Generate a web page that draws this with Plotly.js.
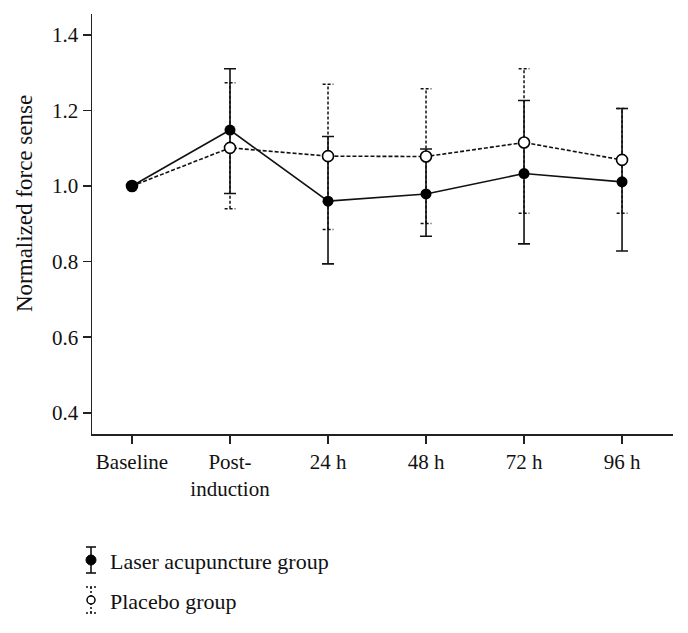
<!DOCTYPE html>
<html>
<head>
<meta charset="utf-8">
<script src="https://cdn.plot.ly/plotly-3.0.1.min.js"></script>
<style>html,body{margin:0;padding:0;background:#fff;}#chart{width:688px;height:633px;}</style>
</head>
<body>
<div id="chart"></div>
<script>
// Data
const categories = ["Baseline", "Post-<br>induction", "24 h", "48 h", "72 h", "96 h"];
const laserMean  = [1.000, 1.148, 0.960, 0.979, 1.033, 1.011];
const laserUp    = [0.000, 0.162, 0.171, 0.119, 0.193, 0.194];
const laserDown  = [0.000, 0.168, 0.166, 0.112, 0.186, 0.183];
const placeboMean = [1.000, 1.101, 1.079, 1.078, 1.115, 1.069];
const placeboUp   = [0.000, 0.172, 0.190, 0.179, 0.195, 0.136];
const placeboDown = [0.000, 0.161, 0.194, 0.177, 0.187, 0.141];
const legendNames = ["Laser acupuncture group", "Placebo group"];
const yTitle = "Normalized force sense";

const xIdx = categories.map((_, i) => i);
const FONT = "Liberation Serif, Times New Roman, serif";

// dashed error bars for placebo (built from data)
const ebX = [], ebY = [], capX = [], capY = [];
const capHalf = 0.055;
placeboMean.forEach((m, i) => {
  if (placeboUp[i] === 0 && placeboDown[i] === 0) return;
  const hi = m + placeboUp[i], lo = m - placeboDown[i];
  ebX.push(i, i, null); ebY.push(lo, hi, null);
  capX.push(i - capHalf, i + capHalf, null); capY.push(hi, hi, null);
  capX.push(i - capHalf, i + capHalf, null); capY.push(lo, lo, null);
});

const traces = [
  {
    x: ebX, y: ebY, mode: "lines", type: "scatter", showlegend: false, hoverinfo: "skip",
    line: {color: "#111", width: 1.5, dash: "3px,2px"}
  },
  {
    x: capX, y: capY, mode: "lines", type: "scatter", showlegend: false, hoverinfo: "skip",
    line: {color: "#111", width: 1.5, dash: "3px,2px"}
  },
  { // laser error bars only
    x: xIdx, y: laserMean, type: "scatter", mode: "markers",
    marker: {size: 1, opacity: 0},
    error_y: {type: "data", symmetric: false,
      array: laserUp, arrayminus: laserDown,
      color: "#111", thickness: 1.6, width: 6},
    showlegend: false, hoverinfo: "skip"
  },
  {
    x: xIdx, y: placeboMean, name: legendNames[1], type: "scatter", mode: "lines+markers",
    line: {color: "#111", width: 1.6, dash: "4px,2px"},
    marker: {symbol: "circle", size: 11, color: "#fff", line: {color: "#000", width: 1.6}},
    showlegend: false
  },
  {
    x: xIdx, y: laserMean, name: legendNames[0], type: "scatter", mode: "lines+markers",
    line: {color: "#111", width: 1.6},
    marker: {symbol: "circle", size: 11, color: "#000"},
    showlegend: false
  }
];

// custom legend (paper coords)
const L = 92, R = 673, T = 14, B = 434;
const px = v => (v - L) / (R - L);
const py = v => (B - v) / (B - T);
const legY = [560, 600];
const symX = px(91);
const shapes = [];
// laser symbol
shapes.push({type: "line", xref: "paper", yref: "paper", x0: symX, x1: symX, y0: py(legY[0] - 13), y1: py(legY[0] + 13), line: {color: "#111", width: 1.6}});
shapes.push({type: "line", xref: "paper", yref: "paper", x0: px(86), x1: px(96), y0: py(legY[0] - 13), y1: py(legY[0] - 13), line: {color: "#111", width: 1.6}});
shapes.push({type: "line", xref: "paper", yref: "paper", x0: px(86), x1: px(96), y0: py(legY[0] + 13), y1: py(legY[0] + 13), line: {color: "#111", width: 1.6}});
shapes.push({type: "circle", xref: "paper", yref: "paper", x0: px(86), x1: px(96), y0: py(legY[0] + 5), y1: py(legY[0] - 5), fillcolor: "#000", line: {color: "#000", width: 1}});
// placebo symbol
shapes.push({type: "line", xref: "paper", yref: "paper", x0: symX, x1: symX, y0: py(legY[1] - 13), y1: py(legY[1] + 13), line: {color: "#111", width: 1.6, dash: "2px,2px"}});
shapes.push({type: "line", xref: "paper", yref: "paper", x0: px(86), x1: px(96), y0: py(legY[1] - 13), y1: py(legY[1] - 13), line: {color: "#111", width: 1.6, dash: "2px,2px"}});
shapes.push({type: "line", xref: "paper", yref: "paper", x0: px(86), x1: px(96), y0: py(legY[1] + 13), y1: py(legY[1] + 13), line: {color: "#111", width: 1.6, dash: "2px,2px"}});
shapes.push({type: "circle", xref: "paper", yref: "paper", x0: px(87), x1: px(95), y0: py(legY[1] + 4), y1: py(legY[1] - 4), fillcolor: "#fff", line: {color: "#000", width: 1.5}});

const annotations = legendNames.map((n, i) => ({
  xref: "paper", yref: "paper", x: px(108), y: py(legY[i] + 1), xanchor: "left", yanchor: "middle",
  text: n, showarrow: false, font: {family: FONT, size: 22, color: "#111"}
}));
annotations.push({
  xref: "paper", yref: "paper", x: px(25), y: py(204), xanchor: "center", yanchor: "middle",
  textangle: -90, text: yTitle, showarrow: false, font: {family: FONT, size: 23, color: "#111"}
});

const layout = {
  width: 688, height: 633,
  margin: {l: L, r: 688 - R, t: T, b: 633 - B},
  paper_bgcolor: "#fff", plot_bgcolor: "#fff",
  font: {family: FONT, size: 21, color: "#111"},
  showlegend: false,
  xaxis: {
    range: [-0.408, 5.52], tickmode: "array", tickvals: xIdx, ticktext: categories,
    showgrid: false, zeroline: false, showline: true, linecolor: "#222", linewidth: 1.5,
    ticks: "outside", ticklen: 8, tickwidth: 1.5, tickcolor: "#222",
    tickfont: {family: FONT, size: 21, color: "#111"}
  },
  yaxis: {
    range: [0.344, 1.455], tickmode: "array", tickvals: [0.4, 0.6, 0.8, 1.0, 1.2, 1.4],
    ticktext: ["0.4", "0.6", "0.8", "1.0", "1.2", "1.4"],
    showgrid: false, zeroline: false, showline: true, linecolor: "#222", linewidth: 1.5,
    ticks: "outside", ticklen: 8, tickwidth: 1.5, tickcolor: "#222",
    tickfont: {family: FONT, size: 21, color: "#111"}
  },
  shapes: shapes,
  annotations: annotations
};

Plotly.newPlot("chart", traces, layout, {displayModeBar: false, staticPlot: true});
</script>
</body>
</html>
